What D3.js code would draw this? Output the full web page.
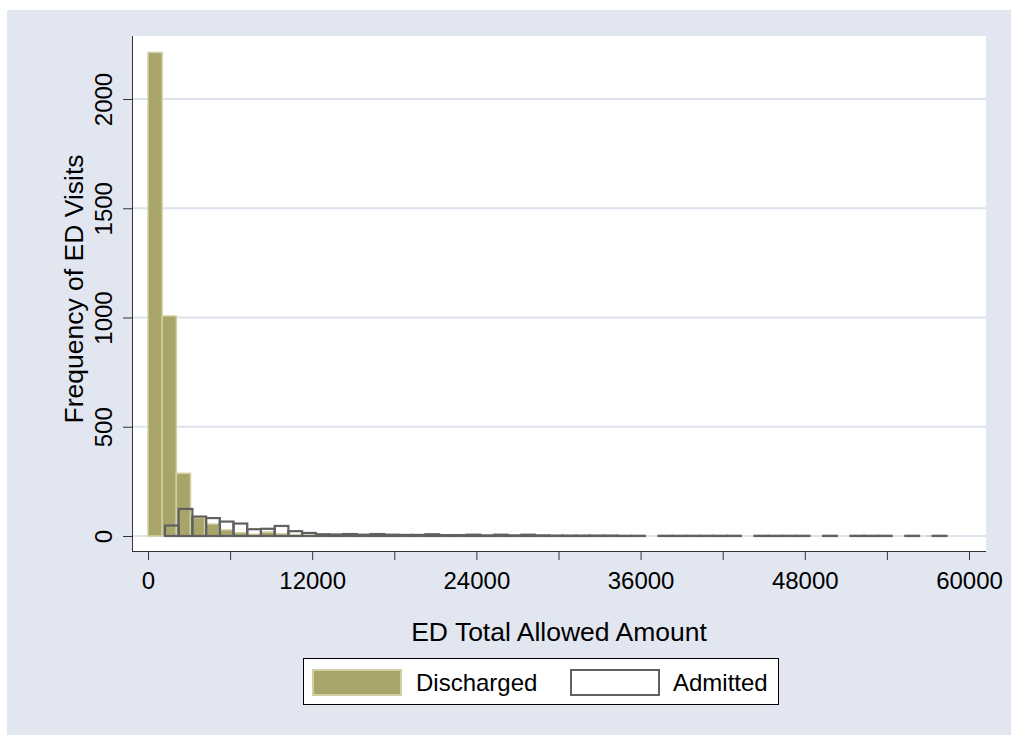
<!DOCTYPE html>
<html lang="en">
<head>
  <meta charset="utf-8">
  <title>ED Total Allowed Amount histogram</title>
  <script type="text/javascript" src="https://cdn.jsdelivr.net/npm/d3@7/dist/d3.min.js"></script>
  <style>
    body { margin: 0; background: #ffffff; }
    text { font-family: "Liberation Sans", Arial, sans-serif; fill: #000; }
  </style>
</head>
<body>
  <div id="chart"></div>
  <script type="text/javascript">
    // histogram bins
    let dischargedStart = 0;
    let dischargedWidth = 1035;
    let dischargedCounts = [2213, 1007, 287, 84, 55, 28, 15, 8, 18, 10,
      5, 4, 4, 3, 3, 3, 2, 2, 2, 2,
      1, 1, 2, 1, 1, 1, 1, 1, 0, 1,
      1, 0, 1, 0, 0, 0, 0, 0, 1, 0,
      0, 0, 0, 0, 1, 0, 0, 0, 0, 0,
      0, 0, 0, 0, 0, 1];

    let admittedStart = 1240;
    let admittedWidth = 1002;
    let admittedCounts = [48, 124, 89, 82, 66, 57, 31, 33, 46, 22,
      14, 8, 7, 9, 6, 9, 6, 5, 5, 8,
      4, 4, 6, 3, 6, 3, 6, 3, 2, 2,
      2, 2, 2, 1, 1, 0, 1, 1, 1, 1,
      1, 1, 0, 1, 1, 1, 1, 0, 1, 0,
      1, 1, 1, 0, 1, 0, 1];

    let xTicks = [0, 6000, 12000, 18000, 24000, 30000, 36000, 42000, 48000, 54000, 60000];
    let yTicks = [0, 500, 1000, 1500, 2000];
    let seriesNames = ["Discharged", "Admitted"];

    let w = 1011;
    let h = 735;
    let plot = { left: 132, top: 36, right: 986, bottom: 551 };

    let olive = "#a8a46a";
    let oliveEdge = "#d2cfa3";
    let grey = "#606060";

    function toBins(start, width, counts) {
      return counts.map(function(c, i) {
        return { x0: start + i * width, x1: start + (i + 1) * width, n: c };
      }).filter(function(d) { return d.n > 0; });
    }

    let xScale = d3.scaleLinear().domain([0, 60000]).range([148, 969]);
    let yScale = d3.scaleLinear().domain([0, 2000]).range([536, 99]);

    let svg = d3.select("#chart")
      .append("svg")
      .attr("width", w)
      .attr("height", h);

    // graph region and plot region
    svg.append("rect")
      .attr("x", 7).attr("y", 10)
      .attr("width", w - 7).attr("height", h - 10)
      .attr("fill", "#e1e6f0");

    svg.append("rect")
      .attr("x", plot.left).attr("y", plot.top)
      .attr("width", plot.right - plot.left).attr("height", plot.bottom - plot.top)
      .attr("fill", "#ffffff");

    // gridlines
    svg.append("g")
      .selectAll("line")
      .data(yTicks)
      .enter()
      .append("line")
      .attr("x1", plot.left).attr("x2", plot.right)
      .attr("y1", function(d) { return yScale(d); })
      .attr("y2", function(d) { return yScale(d); })
      .attr("stroke", "#dde3ee")
      .attr("stroke-width", 2);

    // discharged bars
    svg.append("g")
      .selectAll("rect")
      .data(toBins(dischargedStart, dischargedWidth, dischargedCounts))
      .enter()
      .append("rect")
      .attr("x", function(d) { return xScale(d.x0); })
      .attr("y", function(d) { return yScale(d.n); })
      .attr("width", function(d) { return xScale(d.x1) - xScale(d.x0); })
      .attr("height", function(d) { return yScale(0) - yScale(d.n); })
      .attr("fill", olive)
      .attr("stroke", oliveEdge)
      .attr("stroke-width", 1.5);

    // admitted bars (outline only)
    svg.append("g")
      .selectAll("rect")
      .data(toBins(admittedStart, admittedWidth, admittedCounts))
      .enter()
      .append("rect")
      .attr("x", function(d) { return xScale(d.x0); })
      .attr("y", function(d) { return yScale(d.n); })
      .attr("width", function(d) { return xScale(d.x1) - xScale(d.x0); })
      .attr("height", function(d) { return yScale(0) - yScale(d.n); })
      .attr("fill", "none")
      .attr("stroke", grey)
      .attr("stroke-width", 2.2);

    // y axis
    let yAxis = svg.append("g")
      .attr("transform", "translate(" + plot.left + ",0)")
      .call(d3.axisLeft(yScale).tickValues(yTicks).tickSize(9).tickSizeOuter(0)
        .tickFormat(d3.format("d")));
    yAxis.select(".domain").remove();
    yAxis.selectAll("line").attr("stroke", "#333");
    yAxis.selectAll("text")
      .attr("transform", "rotate(-90)")
      .attr("x", 0)
      .attr("y", -20)
      .attr("dy", "0em")
      .style("text-anchor", "middle")
      .style("font-size", "24px")
      .style("font-family", "'Liberation Sans', Arial, sans-serif")
      .attr("fill", "#000");
    svg.append("line")
      .attr("x1", plot.left + 0.5).attr("x2", plot.left + 0.5)
      .attr("y1", plot.top).attr("y2", plot.bottom)
      .attr("stroke", "#333");

    // x axis
    let xAxis = svg.append("g")
      .attr("transform", "translate(0," + plot.bottom + ")")
      .call(d3.axisBottom(xScale).tickValues(xTicks).tickSize(9).tickSizeOuter(0)
        .tickFormat(function(d) { return d % 12000 === 0 ? d : ""; }));
    xAxis.select(".domain").remove();
    xAxis.selectAll("line").attr("stroke", "#333");
    xAxis.selectAll("text")
      .attr("y", 38)
      .attr("dy", "0em")
      .style("font-size", "24px")
      .style("font-family", "'Liberation Sans', Arial, sans-serif")
      .attr("fill", "#000");
    svg.append("line")
      .attr("x1", plot.left).attr("x2", plot.right)
      .attr("y1", plot.bottom + 0.5).attr("y2", plot.bottom + 0.5)
      .attr("stroke", "#333");

    // axis titles
    svg.append("text")
      .attr("x", (plot.left + plot.right) / 2)
      .attr("y", 641)
      .attr("text-anchor", "middle")
      .style("font-size", "26.5px")
      .text("ED Total Allowed Amount");

    svg.append("text")
      .attr("transform", "translate(83,289) rotate(-90)")
      .attr("text-anchor", "middle")
      .style("font-size", "26.5px")
      .text("Frequency of ED Visits");

    // legend
    let legend = svg.append("g");
    legend.append("rect")
      .attr("x", 303.5).attr("y", 658.5)
      .attr("width", 475).attr("height", 46)
      .attr("fill", "#fff").attr("stroke", "#000");
    legend.append("rect")
      .attr("x", 313).attr("y", 670)
      .attr("width", 88).attr("height", 25)
      .attr("fill", olive).attr("stroke", oliveEdge).attr("stroke-width", 2);
    legend.append("rect")
      .attr("x", 571).attr("y", 670)
      .attr("width", 88).attr("height", 25)
      .attr("fill", "#fff").attr("stroke", grey).attr("stroke-width", 2);
    legend.append("text")
      .attr("x", 416).attr("y", 691)
      .style("font-size", "24px")
      .text(seriesNames[0]);
    legend.append("text")
      .attr("x", 673).attr("y", 691)
      .style("font-size", "24px")
      .text(seriesNames[1]);
  </script>
</body>
</html>
